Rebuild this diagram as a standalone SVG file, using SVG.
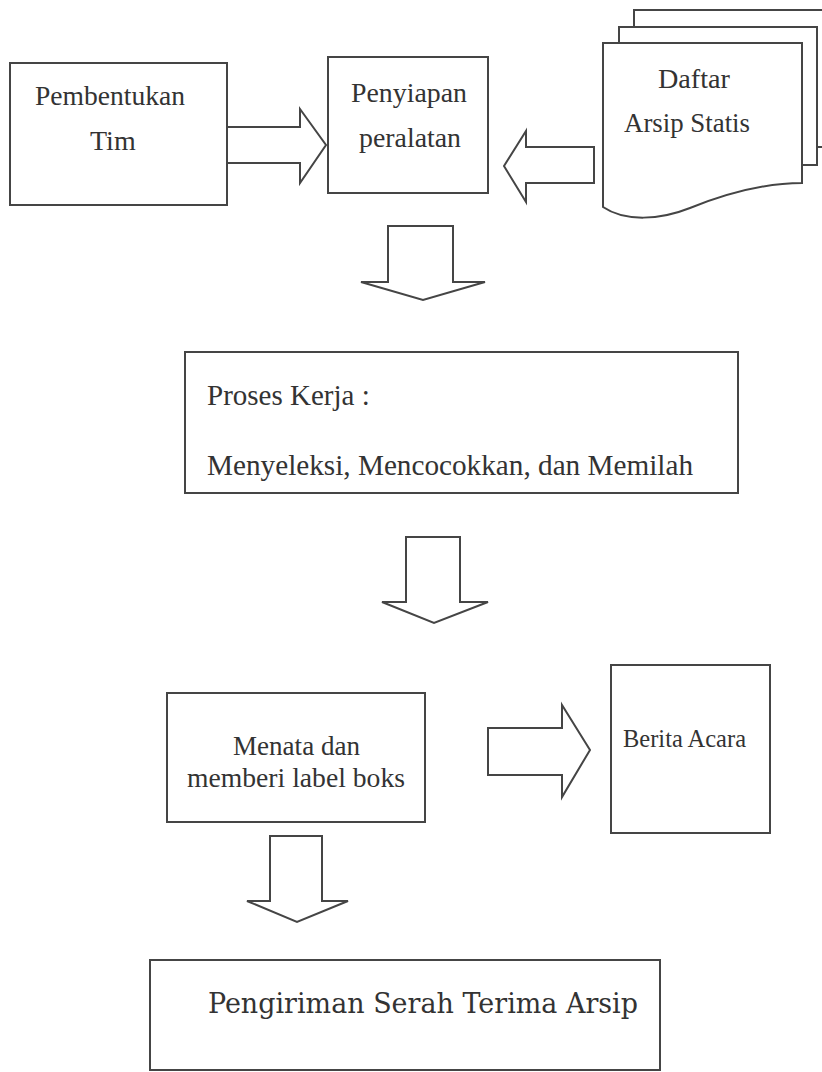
<svg xmlns="http://www.w3.org/2000/svg" width="822" height="1072" viewBox="0 0 822 1072">
  <style>
    .box { fill: #fff; stroke: #454545; stroke-width: 2; }
    .arr { fill: #fff; stroke: #454545; stroke-width: 2; stroke-linejoin: miter; }
    .t { font-family: 'Liberation Serif', 'Noto Serif', 'DejaVu Serif', serif; fill: #333; }
    .t2 { font-family: 'DejaVu Serif', 'Liberation Serif', serif; fill: #333; }
  </style>
  <rect width="822" height="1072" fill="#fff"/>

  <g id="connectors">
    <path class="arr" d="M227,127 L300,127 L300,109 L326,145 L300,183 L300,163 L227,163"/>
    <path class="arr" d="M594,147 L526,147 L526,131 L504,166 L526,202 L526,183 L594,183 Z"/>
    <path class="arr" d="M388,226 L453,226 L453,282 L485,282 L423,300 L361,282 L388,282 Z"/>
    <path class="arr" d="M406,537 L460,537 L460,602 L488,602 L434,623 L382,602 L406,602 Z"/>
    <path class="arr" d="M488,728 L562,728 L562,705 L590,750 L562,797 L562,775 L488,775 Z"/>
    <path class="arr" d="M270,836 L322,836 L322,901 L348,901 L297,922 L247,901 L270,901 Z"/>
  </g>

  <g id="pembentukan">
    <rect class="box" x="10" y="63" width="217" height="142"/>
    <text class="t" x="35" y="105" font-size="28" textLength="150" lengthAdjust="spacingAndGlyphs">Pembentukan</text>
    <text class="t" x="90" y="150" font-size="28">Tim</text>
  </g>

  <g id="penyiapan">
    <rect class="box" x="328" y="57" width="160" height="136"/>
    <text class="t" x="351" y="102" font-size="28" textLength="116" lengthAdjust="spacingAndGlyphs">Penyiapan</text>
    <text class="t" x="359" y="147" font-size="28" textLength="102" lengthAdjust="spacingAndGlyphs">peralatan</text>
  </g>

  <g id="daftar">
    <rect class="box" x="634" y="10" width="200" height="137"/>
    <rect class="box" x="619" y="27" width="198" height="138"/>
    <path class="box" d="M603,43 L802,43 L802,183 C770,183 730,192 690,208 C660,220 625,222 603,207 Z"/>
    <text class="t" x="658" y="88" font-size="28" textLength="72" lengthAdjust="spacingAndGlyphs">Daftar</text>
    <text class="t" x="624" y="132" font-size="28" textLength="126" lengthAdjust="spacingAndGlyphs">Arsip Statis</text>
  </g>

  <g id="proses">
    <rect class="box" x="185" y="352" width="553" height="141"/>
    <text class="t" x="207" y="405" font-size="29">Proses Kerja :</text>
    <text class="t" x="207" y="475" font-size="29" textLength="486" lengthAdjust="spacingAndGlyphs">Menyeleksi, Mencocokkan, dan Memilah</text>
  </g>

  <g id="menata">
    <rect class="box" x="167" y="693" width="258" height="129"/>
    <text class="t" x="233" y="755" font-size="27" textLength="127" lengthAdjust="spacingAndGlyphs">Menata dan</text>
    <text class="t" x="187" y="787" font-size="27" textLength="218" lengthAdjust="spacingAndGlyphs">memberi label  boks</text>
  </g>

  <g id="berita">
    <rect class="box" x="611" y="665" width="159" height="168"/>
    <text class="t" x="623" y="747" font-size="25" textLength="123" lengthAdjust="spacingAndGlyphs">Berita Acara</text>
  </g>

  <g id="pengiriman">
    <rect class="box" x="150" y="960" width="510" height="110"/>
    <text class="t2" x="208" y="1013" font-size="27" textLength="430" lengthAdjust="spacingAndGlyphs">Pengiriman Serah Terima Arsip</text>
  </g>
</svg>
